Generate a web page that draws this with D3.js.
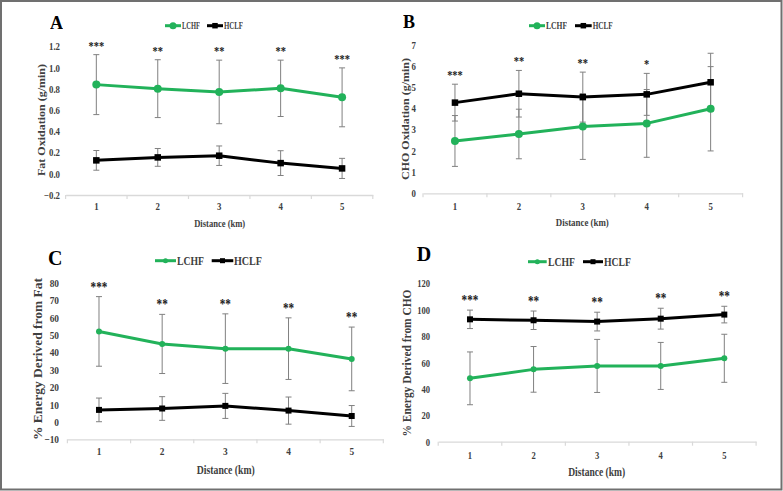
<!DOCTYPE html>
<html>
<head>
<meta charset="utf-8">
<script src="https://cdn.jsdelivr.net/npm/d3@7"></script>
<style>
  html, body { margin: 0; padding: 0; background: #fff; }
  svg { display: block; }
  text { font-family: "Liberation Serif", "Times New Roman", serif; opacity: 0.995; }
</style>
</head>
<body>
<svg id="chart" width="783" height="491"></svg>
<script>
// ---------- data ----------
const distances = ["1", "2", "3", "4", "5"];
const seriesNames = ["LCHF", "HCLF"];

// A: Fat oxidation (g/min)
const fatOxLCHF = [0.842, 0.804, 0.773, 0.807, 0.722];
const fatOxLCHFsd = [0.283, 0.273, 0.300, 0.266, 0.278];
const fatOxHCLF = [0.127, 0.155, 0.171, 0.101, 0.051];
const fatOxHCLFsd = [0.093, 0.084, 0.092, 0.117, 0.095];
const fatOxTicks = [-0.2, 0.0, 0.2, 0.4, 0.6, 0.8, 1.0, 1.2];
const fatOxStars = ["***", "**", "**", "**", "***"];

// B: CHO oxidation (g/min)
const choOxLCHF = [2.47, 2.80, 3.15, 3.30, 3.99];
const choOxLCHFsd = [1.20, 1.17, 1.55, 1.60, 1.99];
const choOxHCLF = [4.28, 4.70, 4.54, 4.67, 5.24];
const choOxHCLFsd = [0.87, 1.10, 1.18, 0.99, 1.37];
const choOxTicks = [0, 1, 2, 3, 4, 5, 6, 7];
const choOxStars = ["***", "**", "**", "*", ""];

// C: % energy derived from fat
const pctFatLCHF = [52.0, 44.8, 42.1, 42.1, 36.2];
const pctFatLCHFsd = [20.0, 17.0, 20.0, 17.7, 18.3];
const pctFatHCLF = [6.9, 7.7, 9.2, 6.5, 3.4];
const pctFatHCLFsd = [6.8, 6.8, 7.2, 7.8, 6.0];
const pctFatTicks = [-10, 0, 10, 20, 30, 40, 50, 60, 70, 80];
const pctFatStars = ["***", "**", "**", "**", "**"];

// D: % energy derived from CHO
const pctChoLCHF = [48.0, 54.8, 57.4, 57.4, 63.2];
const pctChoLCHFsd = [20.0, 17.3, 20.1, 17.8, 18.2];
const pctChoHCLF = [92.7, 92.0, 91.0, 93.2, 96.3];
const pctChoHCLFsd = [7.0, 7.0, 7.1, 7.9, 6.3];
const pctChoTicks = [0, 20, 40, 60, 80, 100, 120];
const pctChoStars = ["***", "**", "**", "**", "**"];

const yTitles = ["Fat Oxidation (g/min)", "CHO Oxidation (g/min)", "% Energy Derived from Fat", "% Energy Derived from CHO"];
const xTitle = "Distance (km)";
const panelLetters = ["A", "B", "C", "D"];

// ---------- styles / layout ----------
const GREEN = "#22b25a";
const BLACK = "#000000";
const ERR = "#808080";
const AXIS = "#d9d9d9";
const TICKTXT = "#404040";

const panels = [
  { letter: panelLetters[0], lchf: fatOxLCHF, lchfSd: fatOxLCHFsd, hclf: fatOxHCLF, hclfSd: fatOxHCLFsd,
    ticks: fatOxTicks, fmt: d3.format(".1f"), stars: fatOxStars, yTitle: yTitles[0],
    x0: 65.6, x1: 372.8, yTop: 46.7, yBot: 195, labelRight: 60, tickFont: 10, squeeze: 0.88,
    titleX: 40.7, titleY: 120, titleLen: 112, titleFont: 11,
    xLabY: 210.5, xTitleX: 219.7, xTitleY: 227, xTitleLen: 51, xTitleFont: 11,
    letterX: 50, letterY: 29, letterFont: 18,
    leg: { y: 25.7, g0: 165, g1: 181, gt: 182, gw: 18, b0: 207, b1: 223, bt: 224, bw: 19, font: 10 },
    rC: 4, sq: 6.5, lw: 3 },
  { letter: panelLetters[1], lchf: choOxLCHF, lchfSd: choOxLCHFsd, hclf: choOxHCLF, hclfSd: choOxHCLFsd,
    ticks: choOxTicks, fmt: d3.format("d"), stars: choOxStars, yTitle: yTitles[1],
    x0: 423, x1: 742.6, yTop: 45, yBot: 193.3, labelRight: 416, tickFont: 10, squeeze: 0.88,
    titleX: 405, titleY: 119, titleLen: 122, titleFont: 11,
    xLabY: 210, xTitleX: 582.3, xTitleY: 225.5, xTitleLen: 53, xTitleFont: 11,
    letterX: 403, letterY: 28, letterFont: 18,
    leg: { y: 25.7, g0: 529, g1: 545, gt: 546, gw: 21, b0: 575, b1: 591.7, bt: 592.7, bw: 20, font: 10 },
    rC: 4, sq: 6.5, lw: 3 },
  { letter: panelLetters[2], lchf: pctFatLCHF, lchfSd: pctFatLCHFsd, hclf: pctFatHCLF, hclfSd: pctFatHCLFsd,
    ticks: pctFatTicks, fmt: d3.format("d"), stars: pctFatStars, yTitle: yTitles[2],
    x0: 67.4, x1: 383.3, yTop: 282.7, yBot: 439.3, labelRight: 59, tickFont: 11, squeeze: 0.85,
    titleX: 38, titleY: 359, titleLen: 162, titleFont: 12.5,
    xLabY: 455, xTitleX: 225.8, xTitleY: 473.5, xTitleLen: 58, xTitleFont: 12,
    letterX: 48, letterY: 265, letterFont: 20,
    leg: { y: 260.7, g0: 155, g1: 176, gt: 177, gw: 27, b0: 211.7, b1: 233.3, bt: 234, bw: 28, font: 13 },
    rC: 3, sq: 6, lw: 3 },
  { letter: panelLetters[3], lchf: pctChoLCHF, lchfSd: pctChoLCHFsd, hclf: pctChoHCLF, hclfSd: pctChoHCLFsd,
    ticks: pctChoTicks, fmt: d3.format("d"), stars: pctChoStars, yTitle: yTitles[3],
    x0: 438.2, x1: 756.1, yTop: 283.3, yBot: 441.7, labelRight: 430, tickFont: 11, squeeze: 0.78,
    titleX: 406.7, titleY: 363, titleLen: 147, titleFont: 12,
    xLabY: 459, xTitleX: 596.7, xTitleY: 476, xTitleLen: 57, xTitleFont: 12,
    letterX: 416.7, letterY: 261, letterFont: 20,
    leg: { y: 261.7, g0: 528, g1: 546.7, gt: 548, gw: 27, b0: 583, b1: 603, bt: 604, bw: 27, font: 13 },
    rC: 3, sq: 6, lw: 3 }
];

const svg = d3.select("#chart");

// frame
svg.append("rect").attr("x", 1).attr("y", 1).attr("width", 780.5).attr("height", 488.5)
  .attr("fill", "#fff").attr("stroke", "#707070").attr("stroke-width", 2);

function drawPanel(p) {
  const g = svg.append("g");
  const x = d3.scaleBand().domain(distances).range([p.x0, p.x1]).padding(0);
  const cx = d => x(d) + x.bandwidth() / 2;
  const y = d3.scaleLinear().domain([p.ticks[0], p.ticks[p.ticks.length - 1]]).range([p.yBot, p.yTop]);

  // y tick labels
  const ya = d3.axisLeft(y).tickValues(p.ticks).tickFormat(p.fmt).tickSize(0).tickPadding(0);
  const yg = g.append("g").attr("transform", `translate(${p.labelRight},0)`).call(ya);
  yg.select(".domain").remove();
  yg.selectAll("text").attr("font-family", "Liberation Serif, serif").attr("font-weight", "bold")
    .attr("font-size", p.tickFont).attr("fill", TICKTXT)
    .attr("transform", `scale(${p.squeeze},1)`);

  // x axis line + labels
  const xa = d3.axisBottom(x).tickSize(0).tickPadding(0);
  const xg = g.append("g").attr("transform", `translate(0,${p.yBot})`).call(xa);
  xg.select(".domain").attr("stroke", AXIS).attr("stroke-width", 1.3);
  xg.selectAll("text").attr("font-family", "Liberation Serif, serif").attr("font-weight", "bold")
    .attr("font-size", p.tickFont).attr("fill", TICKTXT)
    .attr("dy", null).attr("y", p.xLabY - p.yBot)
    .attr("transform", `scale(${p.squeeze},1)`);
  // boundary tick marks
  const bounds = distances.map(d => x(d)).concat([x(distances[distances.length - 1]) + x.bandwidth()]);
  g.selectAll(".btick").data(bounds).enter().append("line")
    .attr("x1", d => d).attr("x2", d => d).attr("y1", p.yBot).attr("y2", p.yBot + 4)
    .attr("stroke", AXIS).attr("stroke-width", 1.2);

  // error bars
  const series = [
    { vals: p.lchf, sd: p.lchfSd, color: GREEN, kind: "circle" },
    { vals: p.hclf, sd: p.hclfSd, color: BLACK, kind: "square" }
  ];
  series.forEach(s => {
    const eg = g.append("g");
    distances.forEach((d, i) => {
      const hi = y(s.vals[i] + s.sd[i]), lo = y(s.vals[i] - s.sd[i]);
      eg.append("line").attr("x1", cx(d)).attr("x2", cx(d)).attr("y1", hi).attr("y2", lo)
        .attr("stroke", ERR).attr("stroke-width", 1);
      [hi, lo].forEach(yy => eg.append("line").attr("x1", cx(d) - 3).attr("x2", cx(d) + 3)
        .attr("y1", yy).attr("y2", yy).attr("stroke", ERR).attr("stroke-width", 1));
    });
  });

  // lines + markers
  series.forEach(s => {
    const line = d3.line().x((v, i) => cx(distances[i])).y(v => y(v));
    g.append("path").attr("d", line(s.vals)).attr("fill", "none")
      .attr("stroke", s.color).attr("stroke-width", p.lw).attr("stroke-linejoin", "round");
    if (s.kind === "circle") {
      g.selectAll(null).data(s.vals).enter().append("circle")
        .attr("cx", (v, i) => cx(distances[i])).attr("cy", v => y(v)).attr("r", p.rC).attr("fill", s.color);
    } else {
      g.selectAll(null).data(s.vals).enter().append("rect")
        .attr("x", (v, i) => cx(distances[i]) - p.sq / 2).attr("y", v => y(v) - p.sq / 2)
        .attr("width", p.sq).attr("height", p.sq).attr("fill", s.color);
    }
  });

  // significance stars
  distances.forEach((d, i) => {
    if (!p.stars[i]) return;
    const top = Math.min(y(p.lchf[i] + p.lchfSd[i]), y(p.hclf[i] + p.hclfSd[i]));
    g.append("text").attr("transform", `translate(${cx(d)},${top - 5}) scale(0.8,1)`)
      .attr("text-anchor", "middle")
      .attr("font-size", p.tickFont + 3).attr("font-weight", "bold").attr("fill", "#1a1a1a")
      .text(p.stars[i]);
  });

  // y title
  g.append("text").attr("transform", `translate(${p.titleX},${p.titleY}) rotate(-90)`)
    .attr("text-anchor", "middle").attr("dy", "0.35em")
    .attr("font-size", p.titleFont).attr("font-weight", "bold").attr("fill", TICKTXT)
    .attr("textLength", p.titleLen).attr("lengthAdjust", "spacingAndGlyphs")
    .text(p.yTitle);

  // x title
  g.append("text").attr("x", p.xTitleX - p.xTitleLen / 2).attr("y", p.xTitleY)
    .attr("font-size", p.xTitleFont).attr("font-weight", "bold").attr("fill", TICKTXT)
    .attr("textLength", p.xTitleLen).attr("lengthAdjust", "spacingAndGlyphs")
    .text(xTitle);

  // panel letter
  g.append("text").attr("x", p.letterX).attr("y", p.letterY)
    .attr("font-size", p.letterFont).attr("font-weight", "bold").attr("fill", "#000")
    .text(p.letter);

  // legend
  const L = p.leg;
  const legItems = [
    { name: seriesNames[0], color: GREEN, a: L.g0, b: L.g1, t: L.gt, w: L.gw, kind: "circle" },
    { name: seriesNames[1], color: BLACK, a: L.b0, b: L.b1, t: L.bt, w: L.bw, kind: "square" }
  ];
  legItems.forEach(it => {
    g.append("line").attr("x1", it.a).attr("x2", it.b).attr("y1", L.y).attr("y2", L.y)
      .attr("stroke", it.color).attr("stroke-width", p.lw);
    const mx = (it.a + it.b) / 2;
    if (it.kind === "circle") g.append("circle").attr("cx", mx).attr("cy", L.y).attr("r", p.rC - 0.5).attr("fill", it.color);
    else g.append("rect").attr("x", mx - p.sq / 2 + 0.5).attr("y", L.y - p.sq / 2 + 0.5)
      .attr("width", p.sq - 1).attr("height", p.sq - 1).attr("fill", it.color);
    g.append("text").attr("x", it.t).attr("y", L.y).attr("dy", "0.35em")
      .attr("font-size", L.font).attr("font-weight", "bold").attr("fill", TICKTXT)
      .attr("textLength", it.w).attr("lengthAdjust", "spacingAndGlyphs")
      .text(it.name);
  });
}

panels.forEach(drawPanel);
</script>
</body>
</html>
